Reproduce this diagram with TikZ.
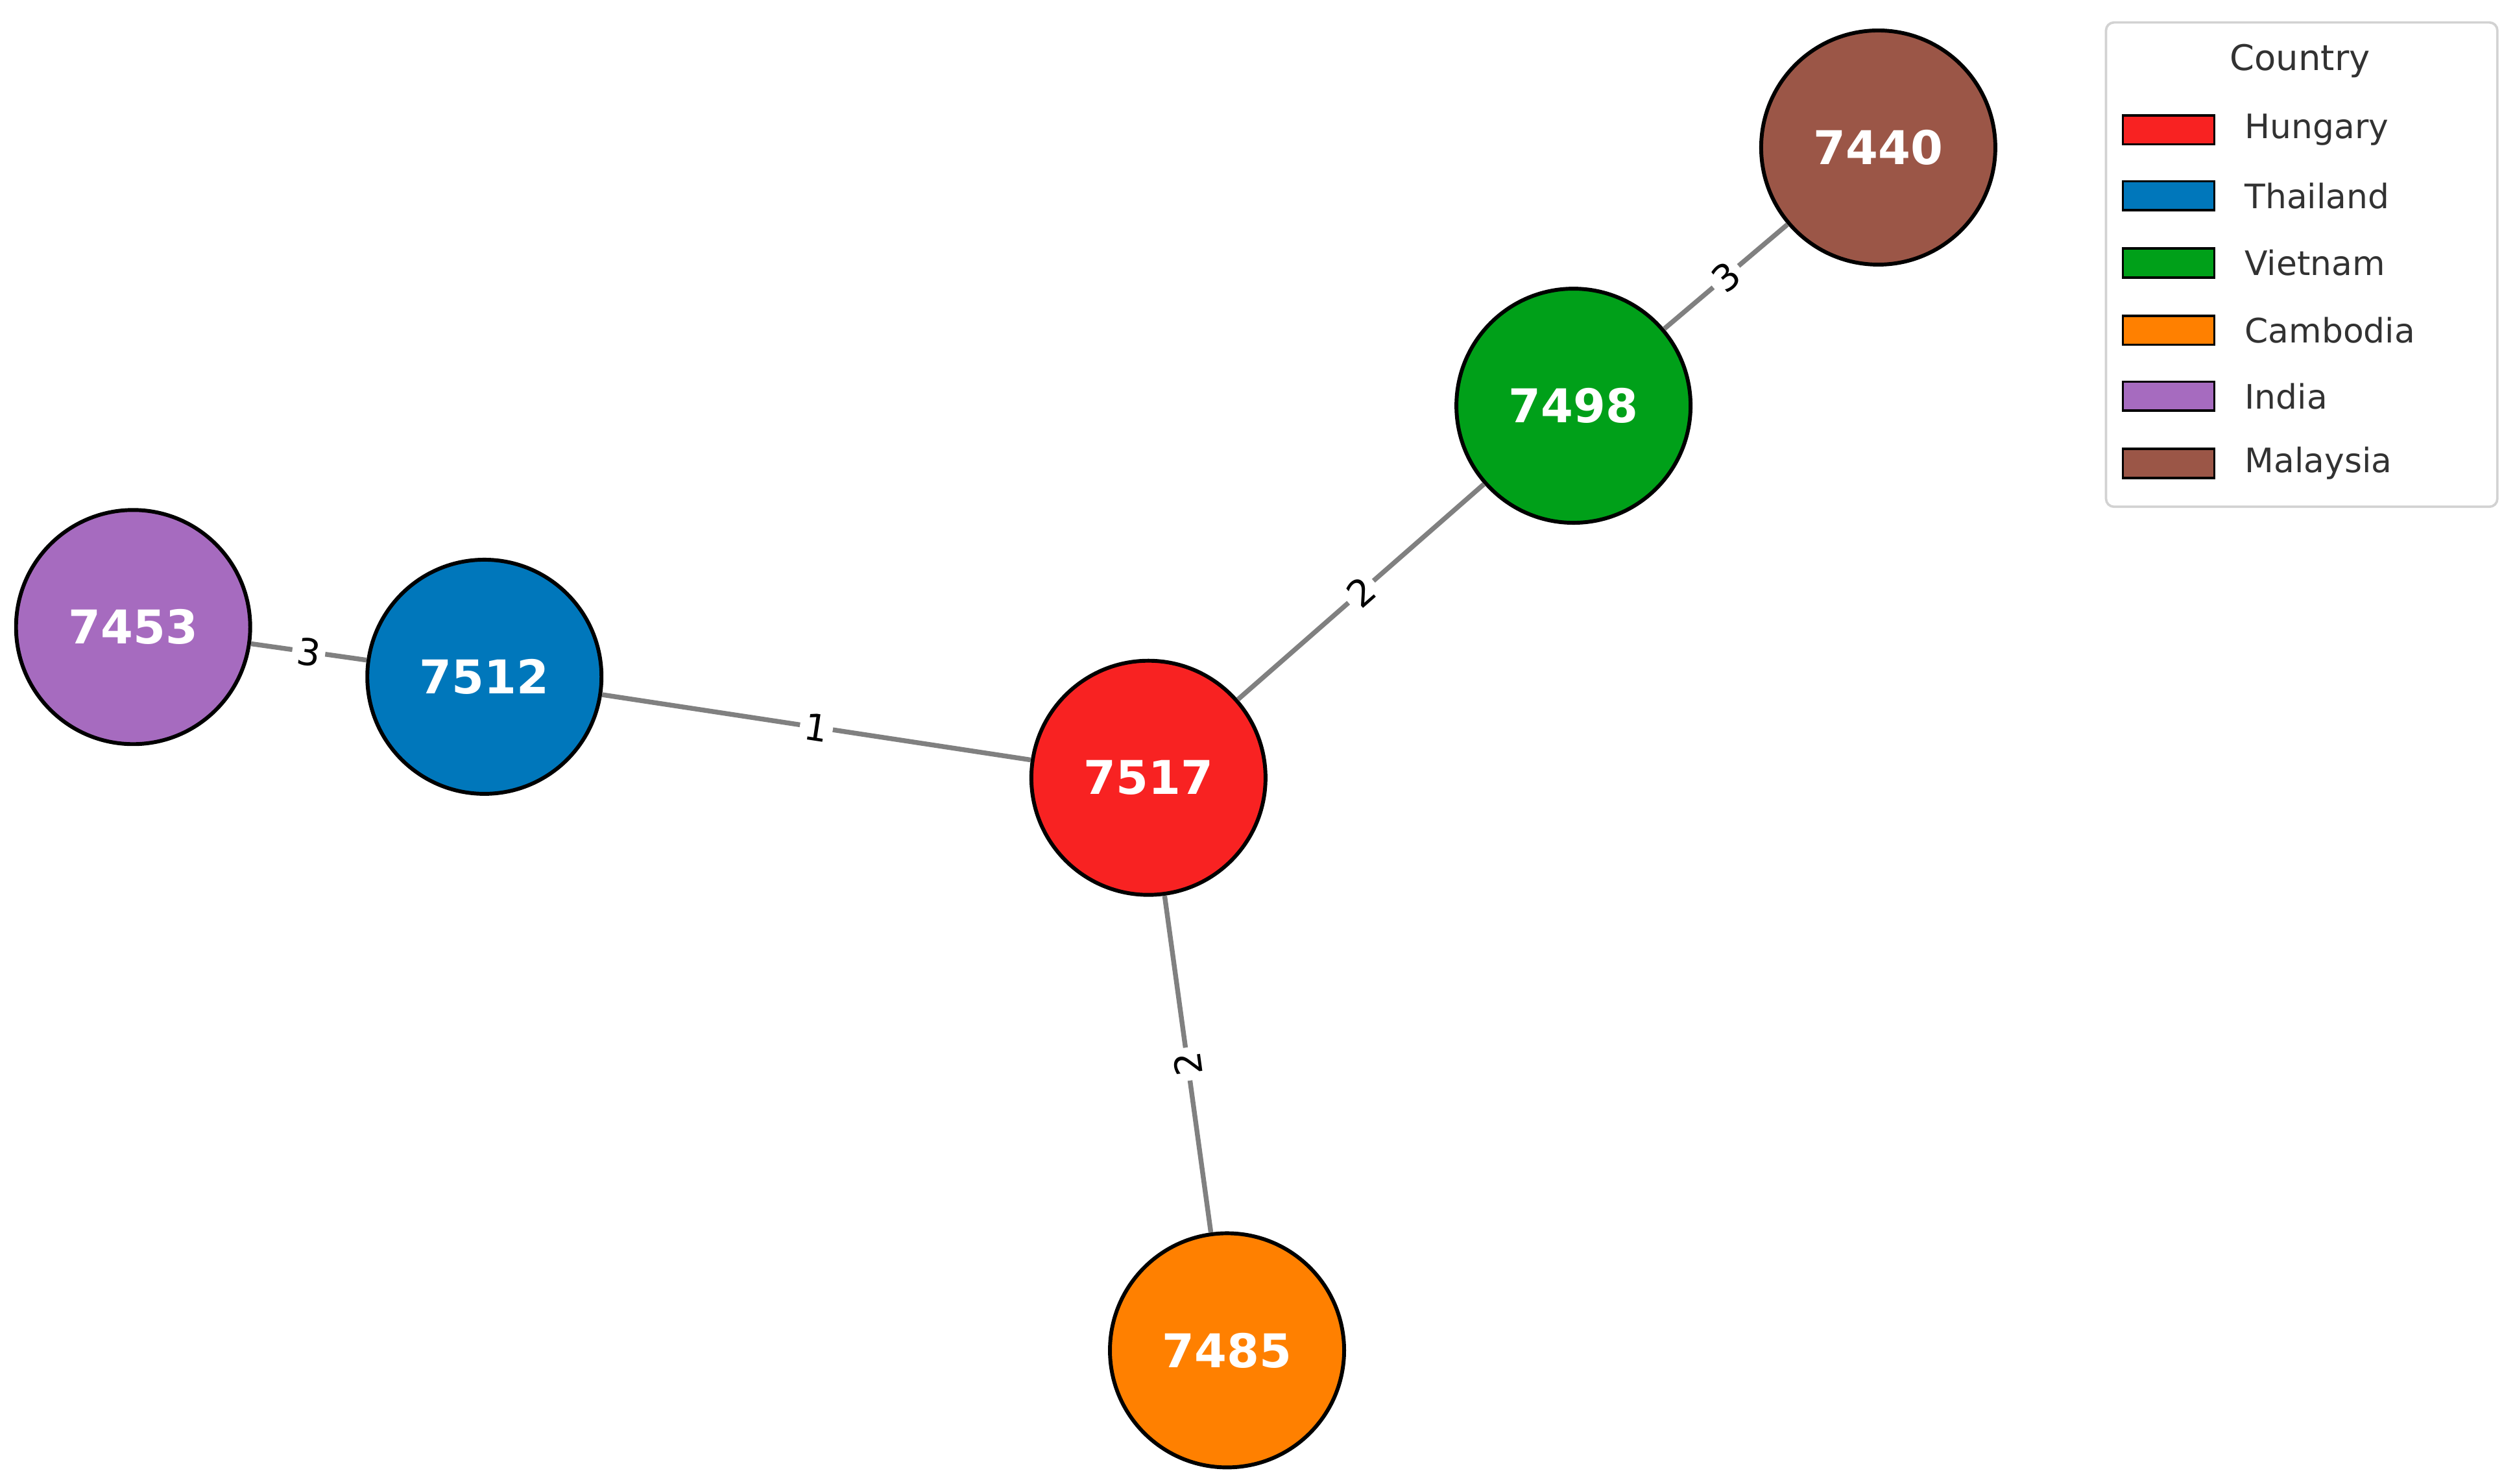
\documentclass[tikz,border=0pt]{standalone}
\usepackage{fontspec}
\setmainfont{DejaVu Sans}
\definecolor{chu}{RGB}{248,34,34}
\definecolor{cth}{RGB}{0,119,187}
\definecolor{cvi}{RGB}{0,160,25}
\definecolor{cca}{RGB}{255,128,0}
\definecolor{cin}{RGB}{166,107,191}
\definecolor{cma}{RGB}{155,86,71}
\definecolor{txt}{RGB}{50,50,50}
\tikzset{
 nd/.style={circle,draw=black,line width=2.4pt,minimum size=146pt,inner sep=0pt,text=white,font=\fontsize{29}{30}\selectfont\bfseries},
 ed/.style={draw={rgb,255:red,128;green,128;blue,128},line width=3pt},
 el/.style={fill=white,inner sep=3pt,font=\fontsize{23}{24}\selectfont,sloped},
 patch/.style={draw=black,line width=1.5pt,minimum width=57pt,minimum height=18pt,inner sep=0pt},
 lt/.style={anchor=west,text=txt,font=\fontsize{21}{22}\selectfont}
}
\begin{document}
\begin{tikzpicture}[x=1pt,y=-1pt]
\useasboundingbox (0,0) rectangle (1568,925);
\node[nd,fill=cma] (a) at (1171,92) {7440};
\node[nd,fill=cvi] (b) at (981,253) {7498};
\node[nd,fill=cin] (c) at (83,391) {7453};
\node[nd,fill=cth] (d) at (302,422) {7512};
\node[nd,fill=chu] (e) at (716,485) {7517};
\node[nd,fill=cca] (f) at (765,842) {7485};
\begin{scope}[on background layer/.style={}]
\end{scope}
\path[ed] (b) -- node[el]{3} (a);
\path[ed] (e) -- node[el]{2} (b);
\path[ed] (c) -- node[el]{3} (d);
\path[ed] (d) -- node[el]{1} (e);
\path[ed] (e) -- node[el,rotate=180]{2} (f);
\node[draw={rgb,255:red,210;green,210;blue,210},line width=1.5pt,rounded corners=5pt,minimum width=244pt,minimum height=302pt,inner sep=0pt] (lg) at (1435,165) {};
\node[text=txt,font=\fontsize{22}{23}\selectfont] (lt0) at (1434,38) {Country};
\foreach \c/\n/\y [count=\i] in {chu/Hungary/81,cth/Thailand/122,cvi/Vietnam/164,cca/Cambodia/206,cin/India/247,cma/Malaysia/289}{
 \node[patch,fill=\c] (p\i) at (1352,\y) {};
 \node[lt] (l\i) at (1396,\y) {\n};
}
\end{tikzpicture}
\end{document}
